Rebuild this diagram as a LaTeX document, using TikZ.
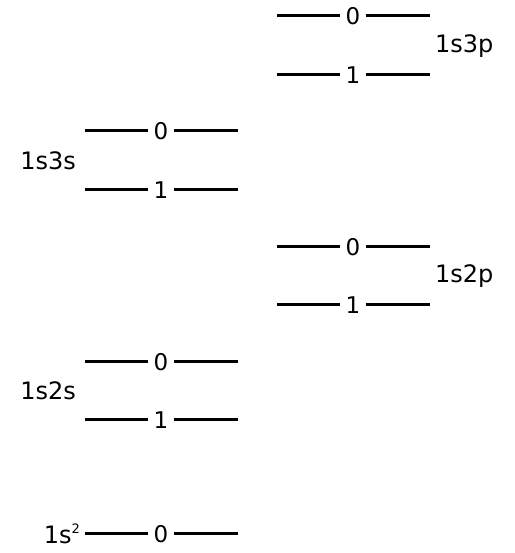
\documentclass[tikz,border=0pt]{standalone}
\usepackage{fontspec}
\setmainfont{DejaVu Sans}
\begin{document}
\begin{tikzpicture}[x=1pt,y=1pt,
  lvl/.style={line width=3pt},
  digit/.style={inner xsep=5pt,inner ysep=0pt,font=\fontsize{23}{23}\selectfont},
  lbl/.style={inner sep=0pt,font=\fontsize{24}{24}\selectfont}]
\useasboundingbox (0,0) rectangle (514,553);
% 1s3p
\coordinate (pa0L) at (277,537); \coordinate (pa0R) at (430,537);
\node[digit] (pa0) at (353,537) {0};
\coordinate (pa1L) at (277,478); \coordinate (pa1R) at (430,478);
\node[digit] (pa1) at (353,478) {1};
\node[lbl,anchor=west] (l3p) at (435,507) {1s3p};
% 1s3s
\coordinate (sa0L) at (85,422); \coordinate (sa0R) at (238,422);
\node[digit] (sa0) at (161,422) {0};
\coordinate (sa1L) at (85,363); \coordinate (sa1R) at (238,363);
\node[digit] (sa1) at (161,363) {1};
\node[lbl,anchor=east] (l3s) at (76,392) {1s3s};
% 1s2p
\coordinate (pb0L) at (277,306); \coordinate (pb0R) at (430,306);
\node[digit] (pb0) at (353,306) {0};
\coordinate (pb1L) at (277,248); \coordinate (pb1R) at (430,248);
\node[digit] (pb1) at (353,248) {1};
\node[lbl,anchor=west] (l2p) at (435,277) {1s2p};
% 1s2s
\coordinate (sb0L) at (85,191); \coordinate (sb0R) at (238,191);
\node[digit] (sb0) at (161,191) {0};
\coordinate (sb1L) at (85,133); \coordinate (sb1R) at (238,133);
\node[digit] (sb1) at (161,133) {1};
\node[lbl,anchor=east] (l2s) at (76,162) {1s2s};
% 1s^2
\coordinate (g0L) at (85,19); \coordinate (g0R) at (238,19);
\node[digit] (g0) at (161,19) {0};
\node[lbl,anchor=east] (lg) at (80,19) {1s\raisebox{10pt}{\fontsize{13}{13}\selectfont 2}};
\foreach \n in {pa0,pa1,sa0,sa1,pb0,pb1,sb0,sb1,g0}{
  \draw[lvl] (\n L) -- (\n);
  \draw[lvl] (\n) -- (\n R);
}
\end{tikzpicture}
\end{document}
